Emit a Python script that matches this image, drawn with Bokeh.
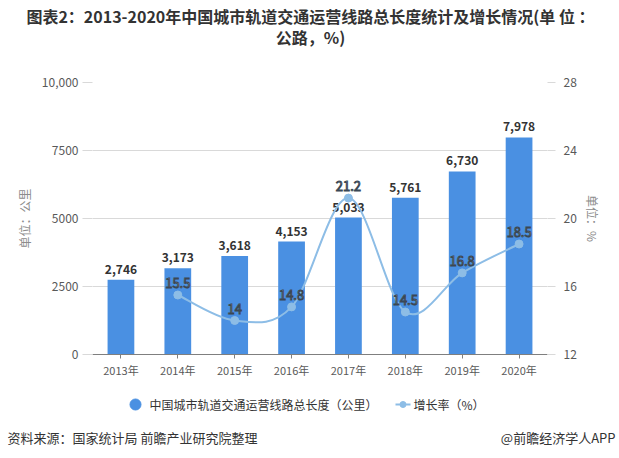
from bokeh.plotting import figure
from bokeh.models import (ColumnDataSource, Range1d, LinearAxis, FixedTicker)
from bokeh.layouts import column
from bokeh.core.properties import value
from bokeh.embed import file_html
from bokeh.resources import INLINE

years = ["2013年", "2014年", "2015年", "2016年", "2017年", "2018年", "2019年", "2020年"]
length_km = [2746, 3173, 3618, 4153, 5033, 5761, 6730, 7978]
growth_years_idx = [1, 2, 3, 4, 5, 6, 7]
growth_pct = [15.5, 14.0, 14.8, 21.2, 14.5, 16.8, 18.5]
growth_labels = ["15.5", "14", "14.8", "21.2", "14.5", "16.8", "18.5"]
left_ticks = [0, 2500, 5000, 7500, 10000]
left_tick_labels = ["0", "2500", "5000", "7500", "10,000"]
right_ticks = [12, 16, 20, 24, 28]
title_lines = ["图表2：2013-2020年中国城市轨道交通运营线路总长度统计及增长情况(单 位 ：", "公路，%)"]
source_note = "资料来源：国家统计局 前瞻产业研究院整理"
credit = "@前瞻经济学人APP"
legend_labels = ["中国城市轨道交通运营线路总长度（公里）", "增长率（%）"]

FONT = "Noto Sans CJK SC"
BAR_COLOR = "#4a90e2"
LINE_COLOR = "#8dbde6"
GRID = "#d9d9d9"

W = 619
TOP_H, MAIN_H, FOOT_H = 50, 330, 78
FL, FR = 92, 547
FT, FB = 82 - TOP_H, 355 - TOP_H  # frame top/bottom inside main figure


def blank(h, yr):
    f = figure(width=W, height=h, output_backend="svg", toolbar_location=None,
               x_range=Range1d(0, W), y_range=yr, min_border=0,
               min_border_left=0, min_border_right=0, min_border_top=0, min_border_bottom=0)
    f.axis.visible = False
    f.grid.visible = False
    f.outline_line_color = None
    f.frame_align = False
    return f


# ---------- title ----------
top = blank(TOP_H, Range1d(TOP_H, 0))
top.text(x=[310, 310], y=[15, 36], text=title_lines, text_align="center", text_baseline="middle",
         text_font=value(FONT), text_font_size="16px", text_font_style="bold", text_color="#333333")

# ---------- main chart ----------
p = figure(width=W, height=MAIN_H, output_backend="svg", toolbar_location=None,
           x_range=Range1d(-0.5, 7.5), y_range=Range1d(0, 10000),
           min_border_left=FL, min_border_right=W - FR, min_border_top=FT,
           min_border_bottom=MAIN_H - FB)
p.frame_align = False
p.outline_line_color = None
p.xgrid.grid_line_color = None
p.ygrid.grid_line_color = GRID
p.ygrid.ticker = FixedTicker(ticks=left_ticks)
p.extra_y_ranges = {"pct": Range1d(12, 28)}

ly = p.yaxis[0]
ly.ticker = FixedTicker(ticks=left_ticks)
ly.major_label_overrides = dict(zip(left_ticks, left_tick_labels))
ly.axis_line_color = None
ly.major_tick_out = 10
ly.major_tick_in = 0
ly.major_tick_line_color = GRID
ly.minor_tick_line_color = None
ly.major_label_standoff = 4
ly.major_label_text_font = FONT
ly.major_label_text_font_size = "12px"
ly.major_label_text_color = "#595959"
ly.axis_label = "单位：公里"
ly.axis_label_text_font = FONT
ly.axis_label_text_font_size = "12px"
ly.axis_label_text_font_style = "normal"
ly.axis_label_text_color = "#8c8c8c"
ly.axis_label_standoff = 6

ry = LinearAxis(y_range_name="pct", ticker=FixedTicker(ticks=right_ticks))
ry.axis_line_color = None
ry.major_tick_out = 8
ry.major_tick_in = 0
ry.major_tick_line_color = GRID
ry.minor_tick_line_color = None
ry.major_label_standoff = 8
ry.major_label_text_font = FONT
ry.major_label_text_font_size = "12px"
ry.major_label_text_color = "#595959"
ry.axis_label = "单位：%"
ry.axis_label_text_font = FONT
ry.axis_label_text_font_size = "12px"
ry.axis_label_text_font_style = "normal"
ry.axis_label_text_color = "#8c8c8c"
ry.axis_label_standoff = 4
p.add_layout(ry, "right")

bx = p.xaxis[0]
bx.ticker = FixedTicker(ticks=list(range(len(years))))
bx.major_label_overrides = {i: y for i, y in enumerate(years)}
bx.axis_line_color = "#7f7f7f"
bx.major_tick_line_color = "#7f7f7f"
bx.major_tick_out = 4
bx.major_tick_in = 0
bx.minor_tick_line_color = None
bx.major_label_standoff = 3
bx.major_label_text_font = FONT
bx.major_label_text_font_size = "11px"
bx.major_label_text_color = "#595959"

xs = list(range(len(years)))
src = ColumnDataSource(dict(x=xs, v=length_km, lbl=[f"{v:,}" for v in length_km]))
p.vbar(x="x", top="v", width=0.47, source=src, fill_color=BAR_COLOR, line_color=None)
p.text(x="x", y="v", text="lbl", source=src, y_offset=-6, text_align="center",
       text_baseline="bottom", text_font=value(FONT), text_font_size="12px",
       text_font_style="bold", text_color="#333333")

# smooth growth line: bezier segments whose control points come from neighbouring data points
gx, gy = growth_years_idx, growth_pct
n = len(gx)
seg = dict(x0=[], y0=[], x1=[], y1=[], cx0=[], cy0=[], cx1=[], cy1=[])
for i in range(n - 1):
    p0 = (gx[max(i - 1, 0)], gy[max(i - 1, 0)])
    p1 = (gx[i], gy[i])
    p2 = (gx[i + 1], gy[i + 1])
    p3 = (gx[min(i + 2, n - 1)], gy[min(i + 2, n - 1)])
    seg["x0"].append(p1[0]); seg["y0"].append(p1[1])
    seg["x1"].append(p2[0]); seg["y1"].append(p2[1])
    seg["cx0"].append(p1[0] + (p2[0] - p0[0]) / 6)
    seg["cy0"].append(p1[1] + (p2[1] - p0[1]) / 6)
    seg["cx1"].append(p2[0] - (p3[0] - p1[0]) / 6)
    seg["cy1"].append(p2[1] - (p3[1] - p1[1]) / 6)
p.bezier(x0="x0", y0="y0", x1="x1", y1="y1", cx0="cx0", cy0="cy0", cx1="cx1", cy1="cy1",
         source=ColumnDataSource(seg), y_range_name="pct", line_color=LINE_COLOR, line_width=2)
lsrc = ColumnDataSource(dict(x=gx, y=gy, lbl=growth_labels))
p.scatter(x="x", y="y", source=lsrc, y_range_name="pct", size=8, marker="circle",
          fill_color=LINE_COLOR, line_color=LINE_COLOR)
p.text(x="x", y="y", text="lbl", source=lsrc, y_range_name="pct", y_offset=-7,
       text_align="center", text_baseline="bottom", text_font=value(FONT),
       text_font_size="13px", text_font_style="normal", text_color="#ffffff",
       text_outline_color="#3a4754")

# ---------- legend + footer (legend swatches drawn as glyphs in canvas pixels) ----------
foot = blank(FOOT_H, Range1d(FOOT_H, 0))
LEG_Y = 24
foot.scatter(x=[135], y=[LEG_Y], marker="circle", size=11, fill_color=BAR_COLOR, line_color=BAR_COLOR)
foot.line(x=[395, 410], y=[LEG_Y, LEG_Y], line_color=LINE_COLOR, line_width=2)
foot.scatter(x=[402.5], y=[LEG_Y], marker="circle", size=6, fill_color=LINE_COLOR, line_color=LINE_COLOR)
foot.text(x=[149, 413], y=[LEG_Y, LEG_Y], text=legend_labels, text_align="left",
          text_baseline="middle", text_font=value(FONT), text_font_size="12px",
          text_color="#333333")
foot.text(x=[7, 615], y=[57, 57], text=[source_note, credit], text_align=["left", "right"],
          text_baseline="middle", text_font=value(FONT), text_font_size="13px",
          text_color="#333333")

layout = column(top, p, foot, spacing=0)
open("out.html", "w").write(file_html(layout, INLINE))
